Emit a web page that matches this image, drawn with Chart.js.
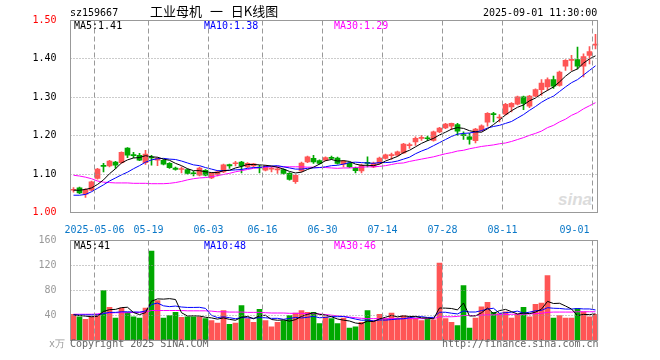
<!DOCTYPE html>
<html>
<head>
<meta charset="utf-8">
<script src="https://cdn.jsdelivr.net/npm/chart.js@4.4.1/dist/chart.umd.min.js"></script>
<style>
  body { margin: 0; background: #fff; }
  #wrap { position: relative; width: 660px; height: 360px; overflow: hidden;
          font-family: "DejaVu Sans Mono", monospace; font-size: 10px; }
  canvas { position: absolute; left: 0; top: 0; }
  .t { position: absolute; white-space: pre; line-height: 12px; }
</style>
</head>
<body>
<div id="wrap">
  <div class="t" style="left:558px;top:190px;font:italic bold 17px 'Liberation Sans';color:#dcdcdc">sina</div>
  <canvas id="kline" width="660" height="360"></canvas>
  <canvas id="volume" width="660" height="360"></canvas>

  <div class="t" style="left:70px;top:7px">sz159667</div>
  <div class="t" style="left:150px;top:4px;font:13px 'Noto Sans CJK SC';line-height:14px;word-spacing:5px">工业母机 一 日K线图</div>
  <div class="t" style="left:483px;top:7px">2025-09-01 11:30:00</div>

  <div class="t" style="left:74px;top:20px;color:#000">MA5:1.41</div>
  <div class="t" style="left:204px;top:20px;color:#0000ff">MA10:1.38</div>
  <div class="t" style="left:334px;top:20px;color:#ff00ff">MA30:1.29</div>

  <div class="t" style="left:74px;top:240px;color:#000">MA5:41</div>
  <div class="t" style="left:204px;top:240px;color:#0000ff">MA10:48</div>
  <div class="t" style="left:334px;top:240px;color:#ff00ff">MA30:46</div>

  <div class="t" style="left:49px;top:338px;color:#999">x万</div>
  <div class="t" style="left:70px;top:338px;color:#666">Copyright 2025 SINA.COM</div>
  <div class="t" style="left:442px;top:338px;color:#666">http://finance.sina.com.cn</div>
</div>
<script>
// trading days shown, oldest first
const dates = [
  "04-25","04-28","04-29","04-30","05-06","05-07","05-08","05-09","05-12","05-13",
  "05-14","05-15","05-16","05-19","05-20","05-21","05-22","05-23","05-26","05-27",
  "05-28","05-29","05-30","06-03","06-04","06-05","06-06","06-09","06-10","06-11",
  "06-12","06-13","06-16","06-17","06-18","06-19","06-20","06-23","06-24","06-25",
  "06-26","06-27","06-30","07-01","07-02","07-03","07-04","07-07","07-08","07-09",
  "07-10","07-11","07-14","07-15","07-16","07-17","07-18","07-21","07-22","07-23",
  "07-24","07-25","07-28","07-29","07-30","07-31","08-01","08-04","08-05","08-06",
  "08-07","08-08","08-11","08-12","08-13","08-14","08-15","08-18","08-19","08-20",
  "08-21","08-22","08-25","08-26","08-27","08-28","08-29","09-01"
];
const tickDates = ["05-06","05-19","06-03","06-16","06-30","07-14","07-28","08-11","09-01"];
const tickLabels = ["2025-05-06","05-19","06-03","06-16","06-30","07-14","07-28","08-11","09-01"];

const openP = [
  1.058,1.064,1.048,1.058,1.089,1.122,1.121,1.131,1.130,1.168,
  1.150,1.149,1.130,1.144,1.136,1.136,1.128,1.116,1.112,1.112,
  1.103,1.097,1.110,1.090,1.099,1.106,1.125,1.127,1.131,1.119,
  1.121,1.118,1.110,1.113,1.111,1.112,1.102,1.080,1.108,1.132,
  1.141,1.135,1.136,1.143,1.142,1.126,1.129,1.116,1.108,1.130,
  1.119,1.128,1.141,1.148,1.149,1.155,1.174,1.184,1.193,1.194,
  1.188,1.210,1.220,1.225,1.229,1.202,1.197,1.187,1.214,1.235,
  1.257,1.246,1.256,1.275,1.282,1.301,1.277,1.303,1.320,1.327,
  1.346,1.331,1.381,1.396,1.398,1.381,1.409,1.436
];
const highP = [
  1.065,1.066,1.062,1.082,1.115,1.128,1.136,1.133,1.158,1.169,
  1.157,1.154,1.162,1.149,1.143,1.138,1.130,1.118,1.119,1.114,
  1.107,1.118,1.112,1.104,1.110,1.126,1.126,1.133,1.133,1.130,
  1.128,1.123,1.123,1.119,1.118,1.114,1.104,1.099,1.131,1.147,
  1.149,1.137,1.145,1.147,1.144,1.136,1.131,1.118,1.126,1.145,
  1.131,1.144,1.152,1.155,1.160,1.180,1.181,1.197,1.201,1.199,
  1.212,1.222,1.232,1.233,1.232,1.210,1.206,1.219,1.228,1.260,
  1.261,1.255,1.284,1.286,1.303,1.303,1.305,1.322,1.346,1.351,
  1.355,1.368,1.398,1.409,1.431,1.413,1.432,1.464
];
const lowP = [
  1.053,1.049,1.039,1.056,1.087,1.106,1.119,1.115,1.128,1.143,
  1.143,1.135,1.125,1.123,1.122,1.124,1.115,1.110,1.103,1.100,
  1.095,1.095,1.095,1.088,1.095,1.104,1.115,1.121,1.103,1.117,
  1.119,1.103,1.108,1.106,1.102,1.100,1.084,1.076,1.106,1.130,
  1.128,1.126,1.134,1.138,1.126,1.119,1.117,1.103,1.103,1.119,
  1.117,1.126,1.139,1.138,1.147,1.153,1.167,1.175,1.188,1.187,
  1.186,1.208,1.218,1.216,1.201,1.190,1.178,1.181,1.212,1.225,
  1.236,1.236,1.254,1.262,1.280,1.268,1.273,1.301,1.305,1.318,
  1.323,1.329,1.370,1.370,1.374,1.353,1.387,1.426
];
const closeP = [
  1.060,1.051,1.060,1.080,1.113,1.120,1.134,1.123,1.157,1.149,
  1.148,1.136,1.152,1.142,1.141,1.126,1.117,1.112,1.114,1.102,
  1.101,1.116,1.097,1.102,1.106,1.124,1.121,1.129,1.121,1.128,
  1.127,1.116,1.121,1.115,1.113,1.102,1.086,1.097,1.129,1.145,
  1.132,1.128,1.143,1.141,1.128,1.134,1.119,1.109,1.123,1.128,
  1.129,1.142,1.150,1.150,1.158,1.178,1.176,1.193,1.195,1.192,
  1.210,1.220,1.230,1.232,1.212,1.200,1.190,1.217,1.226,1.258,
  1.255,1.248,1.282,1.284,1.301,1.284,1.303,1.320,1.337,1.346,
  1.329,1.366,1.396,1.398,1.381,1.406,1.419,1.438
];
const ma5 = [
  1.058,1.058,1.060,1.064,1.073,1.085,1.101,1.114,1.129,1.137,
  1.142,1.143,1.148,1.145,1.144,1.139,1.136,1.128,1.122,1.114,
  1.109,1.109,1.106,1.104,1.104,1.109,1.110,1.116,1.120,1.125,
  1.125,1.124,1.123,1.121,1.118,1.113,1.107,1.103,1.105,1.112,
  1.118,1.126,1.135,1.138,1.134,1.135,1.133,1.126,1.123,1.123,
  1.122,1.126,1.134,1.140,1.146,1.156,1.162,1.171,1.180,1.187,
  1.193,1.202,1.209,1.217,1.221,1.219,1.213,1.210,1.209,1.218,
  1.229,1.241,1.254,1.265,1.274,1.280,1.291,1.298,1.309,1.318,
  1.327,1.340,1.355,1.367,1.374,1.389,1.400,1.408
];
const ma10 = [
  1.045,1.045,1.047,1.054,1.063,1.072,1.082,1.090,1.098,1.105,
  1.114,1.122,1.131,1.137,1.140,1.141,1.139,1.138,1.134,1.129,
  1.124,1.122,1.117,1.113,1.109,1.109,1.110,1.111,1.112,1.115,
  1.117,1.117,1.120,1.121,1.122,1.119,1.116,1.113,1.113,1.115,
  1.116,1.117,1.119,1.122,1.123,1.126,1.130,1.131,1.130,1.129,
  1.128,1.130,1.130,1.131,1.134,1.139,1.144,1.153,1.160,1.166,
  1.174,1.182,1.190,1.198,1.204,1.206,1.207,1.210,1.213,1.220,
  1.224,1.227,1.232,1.237,1.246,1.255,1.266,1.276,1.287,1.296,
  1.303,1.315,1.327,1.338,1.346,1.358,1.370,1.382
];
const ma30 = [
  1.097,1.095,1.092,1.088,1.082,1.079,1.078,1.077,1.077,1.077,
  1.076,1.076,1.076,1.075,1.075,1.075,1.076,1.078,1.081,1.085,
  1.088,1.090,1.091,1.093,1.096,1.099,1.102,1.106,1.109,1.112,
  1.115,1.117,1.118,1.119,1.119,1.119,1.119,1.119,1.119,1.118,
  1.118,1.117,1.117,1.116,1.115,1.116,1.116,1.117,1.118,1.119,
  1.119,1.120,1.122,1.125,1.128,1.129,1.133,1.136,1.139,1.142,
  1.145,1.149,1.153,1.156,1.160,1.162,1.166,1.169,1.172,1.174,
  1.176,1.179,1.181,1.185,1.190,1.195,1.201,1.206,1.212,1.221,
  1.227,1.236,1.243,1.253,1.260,1.270,1.278,1.286
];

// volume, 万手
const vol = [
  42,38,34,38,42,80,53,36,52,45,
  38,36,52,143,64,36,40,45,37,38,
  38,38,35,32,28,48,26,28,56,35,
  29,50,32,22,29,32,40,44,48,45,
  45,27,38,35,27,36,20,22,29,48,
  32,42,35,44,36,40,37,36,32,35,
  33,124,35,29,24,88,20,36,54,61,
  45,43,46,36,42,53,38,58,60,104,
  36,40,36,36,51,46,38,42
];
const volMa5 = [
  41,40,39,38,38.8,46.4,49.4,49.8,52.6,53.2,
  44.8,41.4,44.6,62.8,66.6,66.2,67,65.6,44.4,39.2,
  39.6,39.2,37.2,36.2,34.2,36.2,33.8,32.4,37.2,38.6,
  34.8,39.6,40.4,33.6,32.4,33,31,33.4,38.6,41.8,
  44.4,41.8,40.6,38,34.4,32.6,31.2,28,26.8,31,
  30.2,34.6,37.2,40.2,37.8,39.4,38.4,38.6,36.2,36,
  34.6,52,51.8,51.2,49,60,39.2,39.4,44.4,51.8,
  43.2,47.8,49.8,46.2,42.4,44,43,45.4,50.2,62.6,
  59.2,59.6,55.2,50.4,39.8,41.8,41.4,42.6
];
const volMa10 = [
  41,41,41,41,41,43,45,45,46,46,
  45.6,45.4,47.2,57.7,59.9,55.5,54.2,55.1,53.6,52.9,
  52.9,53.1,51.4,40.3,36.7,37.9,36.5,34.8,36.7,36.4,
  35.5,36.7,36.4,35.4,35.5,33.9,35.3,36.9,36.1,37.1,
  38.7,36.4,37,38.3,38.1,38.5,36.5,34.3,32.4,32.7,
  31.4,32.9,32.6,33.5,34.4,34.8,36.5,37.9,38.2,36.9,
  37,45.2,45.2,43.7,42.5,47.3,45.6,45.6,47.8,50.4,
  51.6,43.5,44.6,45.3,47.1,43.6,45.4,47.6,48.2,52.5,
  51.6,51.3,50.3,50.3,51.2,50.5,50.5,48.9
];
const volMa30 = [
  42,42,42,42,42.5,44,44,44.5,44.5,44.5,
  45,45,45.5,48,48,48,48,48,48,47.5,
  47.5,47.5,47.5,47,46,46,45.5,45.5,45.5,45,
  45,45,44.5,44,44,44,43.5,43.5,43.5,43,
  43,42.5,41.5,40.5,39.5,38.5,37.5,36.5,35.5,35,
  35,35,35,35,35,35,35,35,35,35,
  35,38,38,38,38.5,40,40,40,40.5,41,
  41,41.5,41.5,42,42,42,42.5,43,43.5,45,
  45.5,45.5,45.5,45.5,46,46,46,46
];

const RED = "#ff5555";
const GREEN = "#00a800";
const GRID = "#999999";
const N = dates.length;

const candleColors = closeP.map((c, i) => (c >= openP[i] ? RED : GREEN));
const tickIdx = tickDates.map((d) => dates.indexOf(d));

Chart.defaults.font.family = "'DejaVu Sans Mono', monospace";
Chart.defaults.font.size = 10;
Chart.defaults.animation = false;
Chart.defaults.events = [];
Chart.defaults.plugins.legend.display = false;
Chart.defaults.plugins.tooltip.enabled = false;

// dashed date lines and dotted value lines, placed with the chart's scales
const gridPlugin = {
  id: "gridLines",
  afterDatasetsDraw(chart) {
    const { ctx, chartArea: a, scales } = chart;
    const x = scales.x, y = scales.y;
    const band = x.getPixelForValue(1) - x.getPixelForValue(0);
    ctx.save();
    ctx.strokeStyle = GRID;
    ctx.lineWidth = 1;
    ctx.setLineDash([5, 3]);
    tickIdx.forEach((i) => {
      const px = Math.floor(x.getPixelForValue(i) - band / 2) + 0.5;
      ctx.beginPath();
      ctx.moveTo(px, a.top);
      ctx.lineTo(px, a.bottom);
      ctx.stroke();
    });
    ctx.setLineDash([1, 2]);
    y.ticks.forEach((t) => {
      if (t.value <= y.min || t.value >= y.max) return;
      const py = Math.floor(y.getPixelForValue(t.value)) + 0.5;
      ctx.beginPath();
      ctx.moveTo(a.left, py);
      ctx.lineTo(a.right, py);
      ctx.stroke();
    });
    ctx.restore();
  },
  // grey frame round the plot area
  afterDraw(chart) {
    const a = chart.chartArea;
    const ctx = chart.ctx;
    ctx.save();
    ctx.strokeStyle = "#999";
    ctx.lineWidth = 1;
    ctx.strokeRect(a.left, a.top, a.right - a.left - 1, a.bottom - a.top);
    ctx.restore();
  },
};

const xAxis = (showLabels, height) => ({
  type: "category",
  offset: true,
  afterFit: (s) => { s.height = height; },
  grid: { display: false },
  border: { display: false },
  ticks: {
    display: showLabels,
    autoSkip: false,
    maxRotation: 0,
    padding: 4,
    labelOffset: -3,
    color: "#0a78c8",
    callback: (v, i) => {
      const k = tickIdx.indexOf(i);
      if (k < 0) return "";
      // last label sits left of its line, like the original
      return i === N - 1 ? tickLabels[k] + "      " : tickLabels[k];
    },
  },
});

const lineSet = (data, color) => ({
  type: "line",
  data: data,
  borderColor: color,
  borderWidth: 1,
  pointRadius: 0,
  tension: 0,
  order: 0,
});

new Chart(document.getElementById("kline"), {
  type: "bar",
  data: {
    labels: dates,
    datasets: [
      lineSet(ma5, "#000000"),
      lineSet(ma10, "#0000ff"),
      lineSet(ma30, "#ff00ff"),
      {
        data: openP.map((o, i) => [o, closeP[i]]),
        backgroundColor: candleColors,
        barThickness: 5,
        minBarLength: 1,
        grouped: false,
        order: 1,
      },
      {
        data: lowP.map((l, i) => [l, highP[i]]),
        backgroundColor: candleColors,
        barThickness: 1,
        grouped: false,
        order: 2,
      },
    ],
  },
  options: {
    responsive: false,
    devicePixelRatio: 1,
    layout: { padding: { top: 20.5, right: 61.5, bottom: 0, left: 0 } },
    scales: {
      x: xAxis(true, 147.5),
      y: {
        min: 1.0,
        max: 1.5,
        afterFit: (s) => { s.width = 70.5; },
        grid: { display: false },
        border: { display: false },
        ticks: {
          stepSize: 0.1,
          padding: 6,
          callback: (v) => v.toFixed(2),
          color: (c) =>
            Math.abs(c.tick.value - 1.5) < 1e-6 || Math.abs(c.tick.value - 1.0) < 1e-6
              ? "#ff0000"
              : "#000000",
        },
      },
    },
  },
  plugins: [gridPlugin],
});

new Chart(document.getElementById("volume"), {
  type: "bar",
  data: {
    labels: dates,
    datasets: [
      lineSet(volMa5, "#000000"),
      lineSet(volMa10, "#0000ff"),
      lineSet(volMa30, "#ff00ff"),
      {
        data: vol,
        backgroundColor: candleColors,
        barThickness: 5,
        grouped: false,
        order: 1,
      },
    ],
  },
  options: {
    responsive: false,
    devicePixelRatio: 1,
    layout: { padding: { top: 240.5, right: 61.5, bottom: 0, left: 0 } },
    scales: {
      x: xAxis(false, 19.5),
      y: {
        min: 0,
        max: 160,
        afterFit: (s) => { s.width = 70.5; },
        grid: { display: false },
        border: { display: false },
        ticks: {
          stepSize: 40,
          padding: 6,
          color: "#999999",
          callback: (v) => (v === 0 ? "" : v),
        },
      },
    },
  },
  plugins: [gridPlugin],
});
</script>
</body>
</html>
